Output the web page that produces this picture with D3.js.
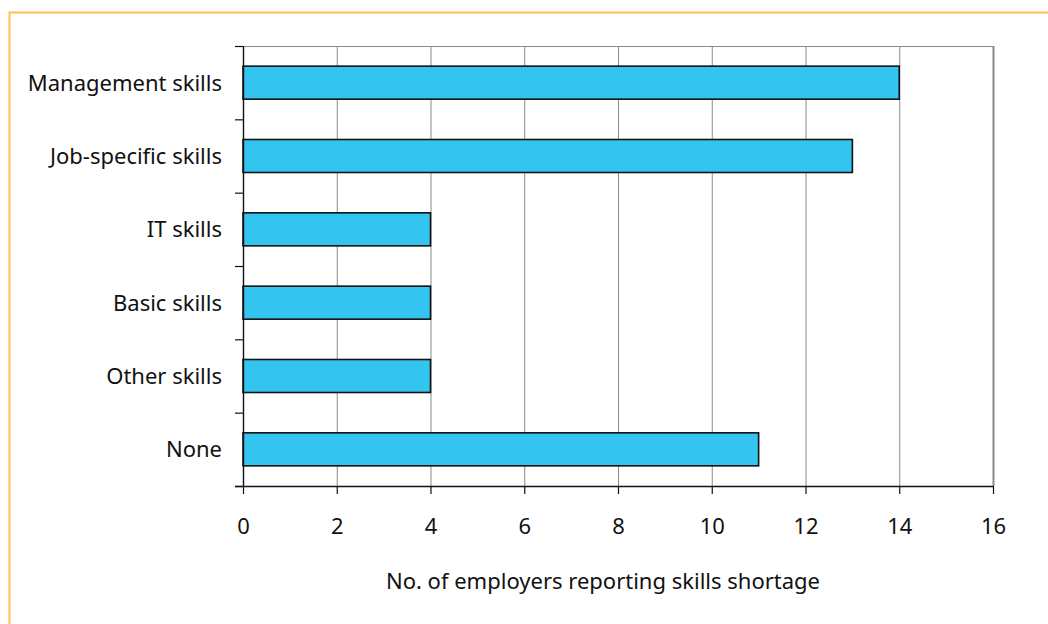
<!DOCTYPE html>
<html>
<head>
<meta charset="utf-8">
<script src="https://cdn.jsdelivr.net/npm/d3@7"></script>
<style>
  html, body { margin: 0; padding: 0; background: #fff; }
  svg { display: block; }
  text { font-family: "Noto Sans", "DejaVu Sans", sans-serif; fill: #111; }
</style>
</head>
<body>
<svg id="chart" width="1048" height="624"></svg>
<script>
// Skill categories, top to bottom
const categories = ["Management skills", "Job-specific skills", "IT skills", "Basic skills", "Other skills", "None"];
// Number of employers reporting each shortage
const employers = [14, 13, 4, 4, 4, 11];
// Horizontal axis ticks
const xTicks = [0, 2, 4, 6, 8, 10, 12, 14, 16];
const xTitle = "No. of employers reporting skills shortage";

const svg = d3.select("#chart");
const W = 1048, H = 624;
const plot = { left: 243, right: 993, top: 46, bottom: 486 };
const fontSize = 22;

// Frame around the figure (top and left edges)
svg.append("path")
  .attr("d", `M9.5,${H} V12.5 H${W}`)
  .attr("fill", "none")
  .attr("stroke", "#FFC04C")
  .attr("stroke-width", 2);

const x = d3.scaleLinear().domain([0, 16]).range([plot.left, plot.right]);
const y = d3.scaleBand().domain(categories).range([plot.top, plot.bottom])
  .paddingInner(0.55).paddingOuter(0.275);

// Vertical gridlines
svg.append("g")
  .selectAll("line")
  .data(xTicks.filter(d => d > 0))
  .join("line")
  .attr("x1", d => x(d) + 0.5).attr("x2", d => x(d) + 0.5)
  .attr("y1", plot.top).attr("y2", plot.bottom)
  .attr("stroke", "#8a8a8a")
  .attr("stroke-width", d => d === 16 ? 2 : 1);

// Top edge of plot area
svg.append("line")
  .attr("x1", plot.left).attr("x2", plot.right)
  .attr("y1", plot.top + 0.5).attr("y2", plot.top + 0.5)
  .attr("stroke", "#8a8a8a").attr("stroke-width", 1);

// Bars
svg.append("g")
  .selectAll("rect")
  .data(categories.map((c, i) => ({ c, v: employers[i] })))
  .join("rect")
  .attr("x", x(0))
  .attr("y", d => y(d.c))
  .attr("width", d => x(d.v) - x(0))
  .attr("height", y.bandwidth())
  .attr("fill", "#33C5F0")
  .attr("stroke", "#111")
  .attr("stroke-width", 1.6);

// Category axis: ticks between bands
const yAxisG = svg.append("g");
const bounds = d3.range(categories.length + 1).map(i => plot.top + i * y.step());
yAxisG.append("line")
  .attr("x1", plot.left + 0.5).attr("x2", plot.left + 0.5)
  .attr("y1", plot.top).attr("y2", plot.bottom)
  .attr("stroke", "#111").attr("stroke-width", 1.4);
yAxisG.selectAll("line.tk")
  .data(bounds)
  .join("line").attr("class", "tk")
  .attr("x1", plot.left - 8).attr("x2", plot.left)
  .attr("y1", d => d + 0.5).attr("y2", d => d + 0.5)
  .attr("stroke", "#111").attr("stroke-width", 1.2);
yAxisG.selectAll("text")
  .data(categories)
  .join("text")
  .attr("x", plot.left - 21)
  .attr("y", d => y(d) + y.bandwidth() / 2)
  .attr("dy", "0.37em")
  .attr("text-anchor", "end")
  .attr("font-size", fontSize)
  .text(d => d);

// Value axis
const xAxis = d3.axisBottom(x).tickValues(xTicks).tickSize(8).tickFormat(d3.format("d"));
const xAxisG = svg.append("g")
  .attr("transform", `translate(0,${plot.bottom})`)
  .call(xAxis);
xAxisG.select(".domain").remove();
xAxisG.selectAll(".tick line").attr("stroke", "#111").attr("stroke-width", 1.2);
xAxisG.selectAll(".tick text")
  .attr("y", 48)
  .attr("dy", 0)
  .attr("font-size", fontSize)
  .attr("font-family", "\"Noto Sans\", \"DejaVu Sans\", sans-serif")
  .attr("fill", "#111");
xAxisG.append("line")
  .attr("x1", plot.left - 8).attr("x2", plot.right)
  .attr("y1", 0.5).attr("y2", 0.5)
  .attr("stroke", "#111").attr("stroke-width", 1.4);

// Axis title
svg.append("text")
  .attr("x", (plot.left + plot.right) / 2 - 15)
  .attr("y", 589)
  .attr("text-anchor", "middle")
  .attr("font-size", fontSize)
  .text(xTitle);
</script>
</body>
</html>
